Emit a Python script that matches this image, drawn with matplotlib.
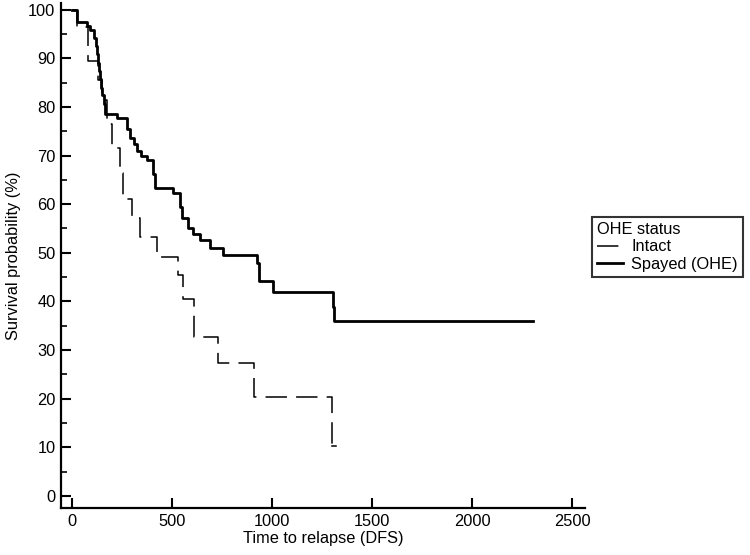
import matplotlib
matplotlib.use("Agg")
import matplotlib.pyplot as plt
from matplotlib.ticker import MultipleLocator

plt.rcParams['font.family'] = ['Liberation Sans', 'DejaVu Sans']

# Kaplan-Meier steps (time, survival % after the event)
intact_t = [0, 25, 80, 130, 150, 175, 200, 240, 255, 300, 340, 425, 530, 555,
            610, 730, 910, 1300, 1320]
intact_s = [100, 96.5, 89.5, 85.5, 81.5, 76.5, 71.6, 66.5, 61.0, 57.1, 53.3, 49.2,
            45.5, 40.5, 32.7, 27.4, 20.4, 10.2, 10.2]

spayed_t = [0, 25, 73, 90, 110, 118, 125, 130, 135, 140, 145, 152, 158, 165,
            225, 275, 290, 310, 325, 345, 375, 405, 415, 505, 540, 550, 580,
            605, 640, 690, 755, 925, 935, 1005, 1305, 1310, 2305]
spayed_s = [100, 97.5, 96.6, 95.8, 94.2, 92.5, 90.8, 89.1, 87.4, 85.7, 84.0,
            82.4, 80.7, 78.6, 77.8, 75.5, 73.7, 72.3, 71.0, 70.0, 69.1, 66.3,
            63.4, 62.2, 59.5, 57.2, 55.0, 53.8, 52.7, 51.0, 49.6, 47.9, 44.3,
            41.9, 38.9, 35.9, 35.9]

fs = 11.8

fig = plt.figure(figsize=(7.5, 5.55), dpi=100)
ax = fig.add_axes([0.0813, 0.0847, 0.6987, 0.91])

ax.step(intact_t, intact_s, where='post', color='black', lw=1.1,
        dashes=[14, 6], label='Intact')
# short tail after the last event, so it does not vanish in a dash gap
ax.plot(intact_t[-2:], intact_s[-2:], color='black', lw=1.1)
ax.step(spayed_t, spayed_s, where='post', color='black', lw=2.0,
        label='Spayed (OHE)')

ax.set_xlim(-55, 2565)
ax.set_ylim(-2.5, 101.4)
ax.set_xticks(range(0, 2501, 500))
ax.set_yticks(range(0, 101, 10))
ax.yaxis.set_minor_locator(MultipleLocator(5))

for s in ['top', 'right']:
    ax.spines[s].set_visible(False)
for s in ['left', 'bottom']:
    ax.spines[s].set_linewidth(1.6)

ax.tick_params(axis='both', which='major', direction='in', length=7, width=1.5,
               labelsize=fs, pad=4)
ax.tick_params(axis='y', which='minor', direction='in', length=4, width=1.2)

ax.set_xlabel('Time to relapse (DFS)', fontsize=fs, labelpad=2)
ax.set_ylabel('Survival probability (%)', fontsize=fs, labelpad=5)

leg = ax.legend(title='OHE status', loc='upper left',
                bbox_to_anchor=(592 / 750, 1 - 217 / 555),
                bbox_transform=fig.transFigure, fontsize=fs,
                title_fontsize=fs, fancybox=False, edgecolor='black',
                handlelength=1.6, borderaxespad=0, alignment='left',
                borderpad=0.3, labelspacing=0.15, handletextpad=0.5)
leg.get_frame().set_linewidth(1.5)

fig.savefig('out.png', dpi=100)
